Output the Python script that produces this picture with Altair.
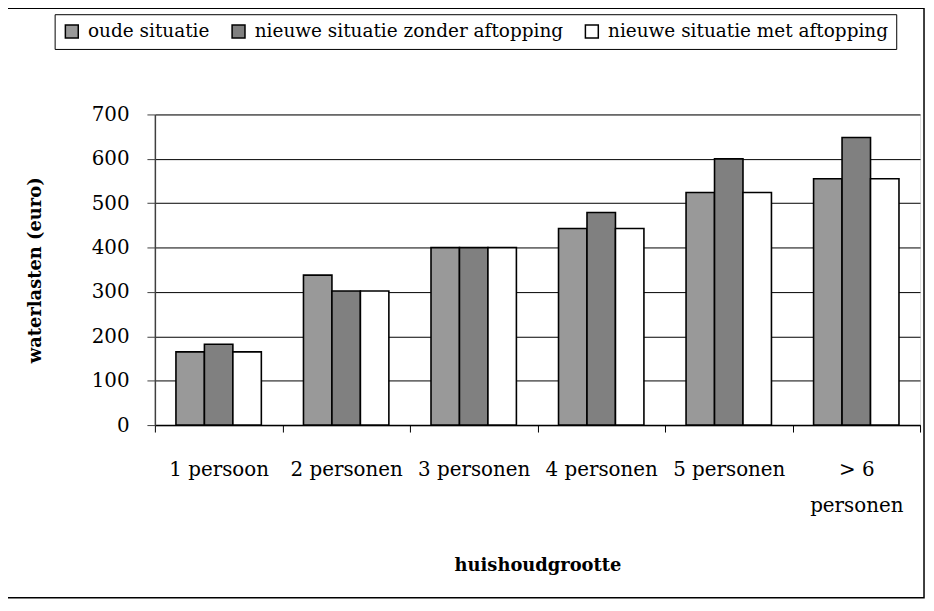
import altair as alt
import pandas as pd

categories = ["1 persoon", "2 personen", "3 personen", "4 personen", "5 personen", "> 6 personen"]
series = ["oude situatie", "nieuwe situatie zonder aftopping", "nieuwe situatie met aftopping"]
oude = [165, 338, 400, 443, 524, 555]
zonder = [182, 302, 400, 479, 600, 648]
met = [165, 302, 400, 443, 524, 555]
colors = ["#999999", "#808080", "#ffffff"]
y_ticks = [0, 100, 200, 300, 400, 500, 600, 700]

rows = []
for name, vals in zip(series, [oude, zonder, met]):
    for c, v in zip(categories, vals):
        rows.append({"huishoudgrootte": c, "serie": name, "waarde": v})
df = pd.DataFrame(rows)

FONT = "DejaVu Serif"

bars = alt.Chart(df).mark_bar(stroke="black", strokeWidth=1.6).encode(
    x=alt.X(
        "huishoudgrootte:N",
        sort=categories,
        scale=alt.Scale(paddingInner=0, paddingOuter=0),
        axis=alt.Axis(
            title="huishoudgrootte",
            titleFont=FONT, titleFontSize=18, titleFontWeight="bold", titleColor="black",
            titlePadding=42,
            labelFont=FONT, labelFontSize=20, labelColor="black", labelAngle=0,
            labelPadding=28, labelLineHeight=36,
            labelExpr="datum.label == '> 6 personen' ? ['> 6', 'personen'] : datum.label",
            tickBand="extent", tickSize=7, tickColor="black", tickWidth=1,
            domainColor="black", domainWidth=1.5, grid=False,
        ),
    ),
    xOffset=alt.XOffset("serie:N", sort=series, scale=alt.Scale(paddingInner=0, paddingOuter=0.74)),
    y=alt.Y(
        "waarde:Q",
        scale=alt.Scale(domain=[0, 700], nice=False),
        axis=alt.Axis(
            title="waterlasten (euro)",
            titleFont=FONT, titleFontSize=18, titleFontWeight="bold", titleColor="black",
            titlePadding=47,
            values=y_ticks,
            labelFont=FONT, labelFontSize=20, labelColor="black", labelPadding=18,
            tickSize=8, tickColor="#404040", tickWidth=1,
            domainColor="#404040", domainWidth=1.5,
            grid=True, gridColor="black", gridWidth=1,
        ),
    ),
    fill=alt.Fill(
        "serie:N",
        sort=series,
        scale=alt.Scale(domain=series, range=colors),
        legend=alt.Legend(
            title=None,
            orient="none", legendX=-101, legendY=-101,
            direction="horizontal",
            strokeColor="black", fillColor="white", padding=8,
            symbolType="square", symbolSize=169,
            symbolStrokeColor="black", symbolStrokeWidth=1.5,
            labelFont=FONT, labelFontSize=18.6, labelColor="black",
            labelOffset=7, labelLimit=500, columnPadding=18,
        ),
    ),
)

frame = alt.Chart(pd.DataFrame({"k": [0]})).mark_rect(
    filled=False, stroke="black", strokeWidth=1.5
).encode(
    x=alt.value(-149), x2=alt.value(775), y=alt.value(-107), y2=alt.value(487)
)

chart = alt.layer(frame, bars).properties(
    width=771,
    height=313,
    autosize=alt.AutoSizeParams(type="none"),
    padding={"left": 148, "top": 105, "right": 6, "bottom": 177},
).configure_view(stroke="#a0a0a0", strokeWidth=1.5).configure(background="white")

chart.save("out.html", embed_options={"renderer": "svg", "actions": False})
